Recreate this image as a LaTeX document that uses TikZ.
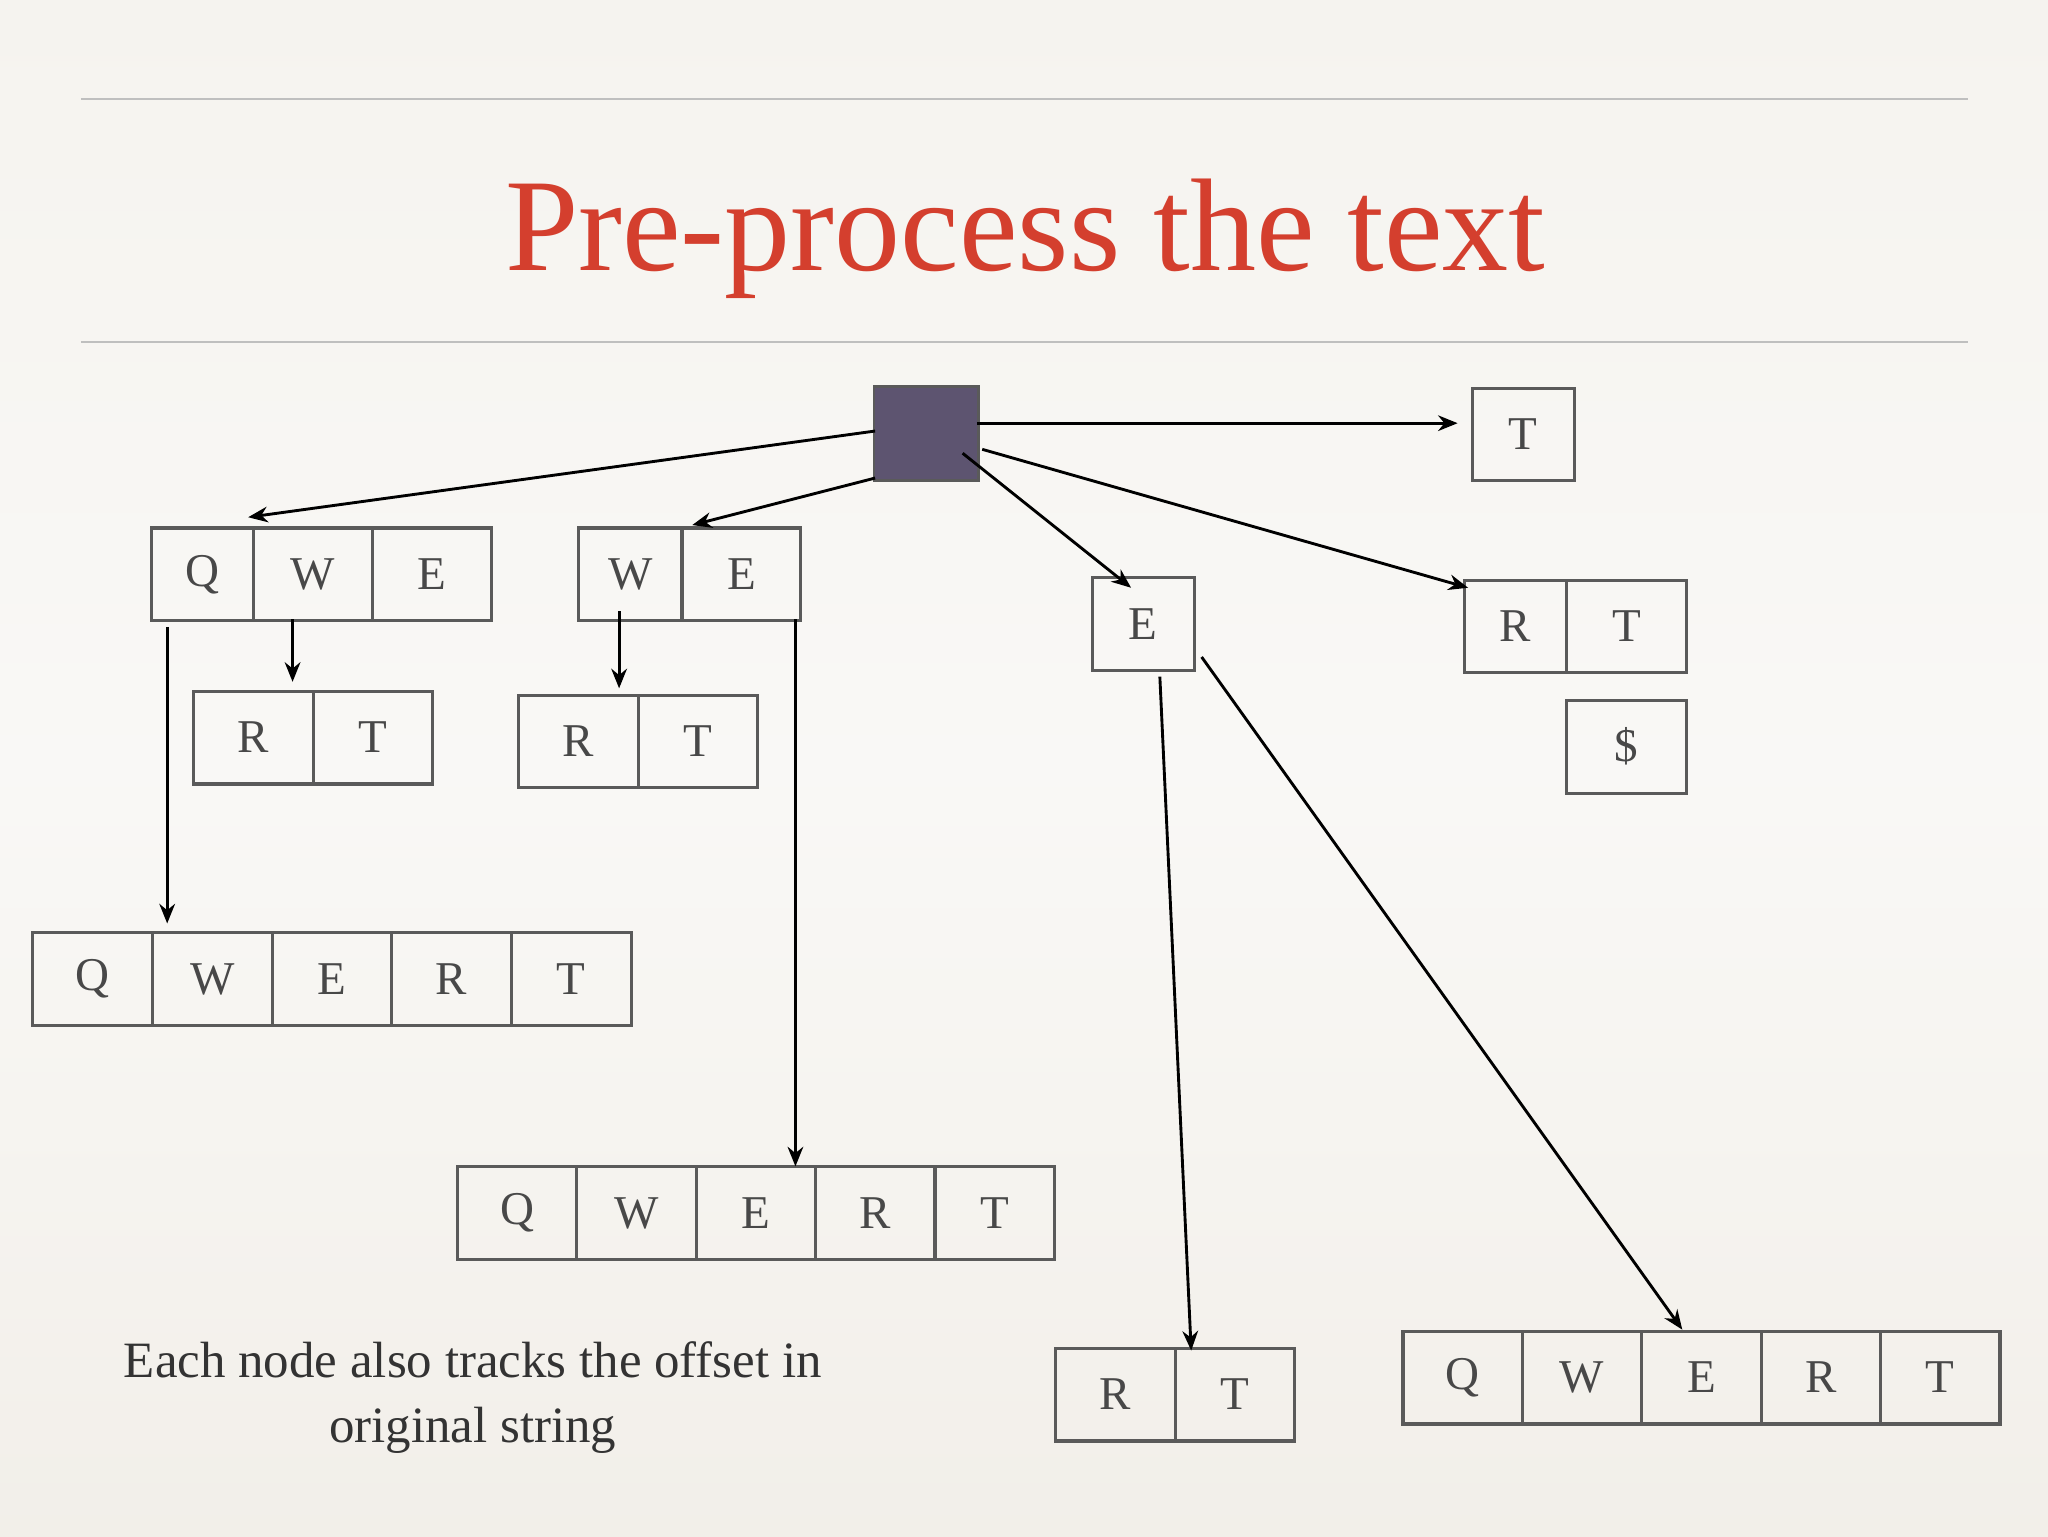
\documentclass[tikz,border=0pt]{standalone}
\usepackage{fontspec}
\setmainfont{Liberation Serif}
\usetikzlibrary{arrows.meta}
\definecolor{bg}{HTML}{F1EEE8}
\definecolor{titlered}{HTML}{D43F2E}
\definecolor{rootc}{HTML}{5D5470}
\definecolor{boxc}{HTML}{5A5A5A}
\tikzset{
  cell/.style={draw=boxc,line width=2.4pt,anchor=north west,inner sep=0pt,
    minimum height=71pt,font=\fontsize{36}{40}\selectfont,text=boxc!80!black},
  arr/.style={-{Stealth[length=15pt,width=12pt]},line width=2.2pt,black},
}
\newcommand{\cellrow}[5]{% name, x, y, width, letters
  \foreach \L [count=\i from 0] in {#5} {
    \node[cell,minimum width=#4pt] (#1\i) at ({#2+\i*#4},#3) {\L};
  }}
\begin{document}
\begin{tikzpicture}[x=1pt,y=-1pt]
\shade[top color=bg!70!white,bottom color=bg!95!white,middle color=bg!40!white] (0,0) rectangle (1568,1176);
\useasboundingbox (0,0) rectangle (1568,1176);
\draw[gray!50,line width=1.2pt] (62,76) -- (1507,76);
\draw[gray!50,line width=1.2pt] (62,262) -- (1507,262);
\node[text=titlered,font=\fontsize{101}{110}\selectfont,anchor=base] (title) at (785,207) {Pre-process the text};
\node[fill=rootc,draw=boxc,line width=2pt,anchor=north west,minimum width=80pt,minimum height=72pt] (root) at (668,295) {};
\cellrow{tt}{1126}{296}{78}{T}
\cellrow{qa}{115}{403}{78}{Q}
\cellrow{qb}{193}{403}{91}{W,E}
\cellrow{wa}{442}{403}{79}{W}
\cellrow{wb}{521}{403}{91}{E}
\cellrow{e}{835}{441}{78}{E}
\cellrow{rta}{1120}{443}{78}{R}
\cellrow{rtb}{1198}{443}{92}{T}
\cellrow{d}{1198}{535}{92}{\$}
\cellrow{r1}{147}{528}{91.5}{R,T}
\cellrow{r2}{396}{531}{91.5}{R,T}
\cellrow{q1}{24}{713}{91.6}{Q,W,E,R,T}
\cellrow{q2}{349}{892}{91.4}{Q,W,E,R,T}
\cellrow{r3}{807}{1031}{91.5}{R,T}
\cellrow{q3}{1073}{1018}{91.4}{Q,W,E,R,T}
\foreach \n/\x/\y in {a1/670/330,a2/670/366,a3/748/324,a4/737/347,a5/752/344,
  b1/190/396,b2/530/402,b3/1116/324,b4/866/450,b5/1124/450,
  c1/128/480,d1/128/707,c2/224/474,d2/224/522,c3/474/468,d3/474/527,
  c4/609/474,d4/609/893,c5/888/518,d5/912/1034,c6/920/503,d6/1288/1018}
  \coordinate (\n) at (\x,\y);
\foreach \s/\t in {a1/b1,a2/b2,a3/b3,a4/b4,a5/b5,c1/d1,c2/d2,c3/d3,c4/d4,c5/d5,c6/d6}
  \draw[arr] (\s) -- (\t);
\node[font=\fontsize{39}{50}\selectfont,align=center,text=black!80] (note) at (362,1070)
  {Each node also tracks the offset in\\original string};
\end{tikzpicture}
\end{document}
